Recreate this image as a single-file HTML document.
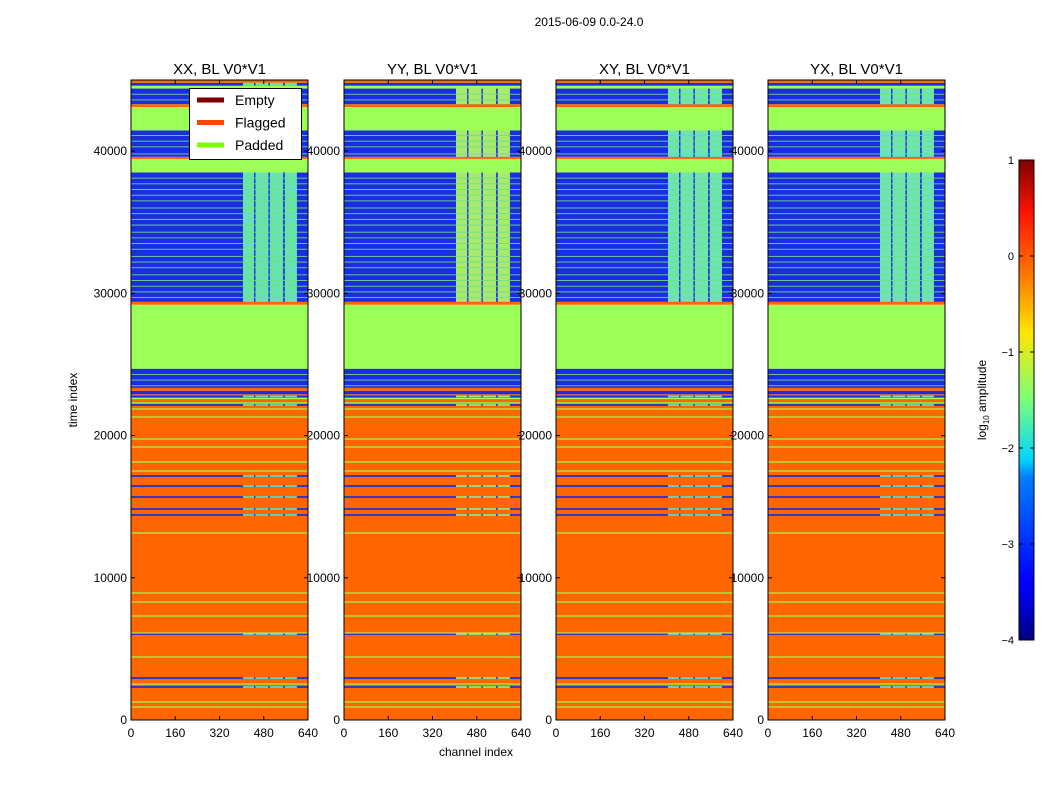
<!DOCTYPE html>
<html><head><meta charset="utf-8">
<style>
html,body{margin:0;padding:0;background:#fff;}
#wrap{position:relative;width:1050px;height:800px;overflow:hidden;font-family:"Liberation Sans",sans-serif;}
svg text{font-family:"Liberation Sans",sans-serif;}
</style></head>
<body>
<div id="wrap">
<svg id="fig" width="1050" height="800" xmlns="http://www.w3.org/2000/svg">
<text x="589" y="26" font-size="12" text-anchor="middle">2015-06-09 0.0-24.0</text>
<text x="476" y="756" font-size="12" text-anchor="middle">channel index</text>
<text x="77" y="400" font-size="12" text-anchor="middle" transform="rotate(-90 77 400)">time index</text>
<text x="986" y="400" font-size="12" text-anchor="middle" transform="rotate(-90 986 400)">log<tspan font-size="8" dy="3">10</tspan><tspan dy="-3"> amplitude</tspan></text>
<g id="panels"></g>
<g id="cbar"></g>
</svg>
</div>
<script>
// ---- data ----
const panelTitles = ["XX, BL V0*V1","YY, BL V0*V1","XY, BL V0*V1","YX, BL V0*V1"];
const stripeColors = ["#70f8a8","#b8ff60","#78f8a8","#78f8a8"];
// time bands: start, end, code (D=data, F=flagged, P=padded)
const bandStart = [0,     22900, 23150, 23350, 24700, 29200, 29400, 38500, 39450, 39600, 41450, 43100, 43300, 44400, 44600, 44800];
const bandEnd   = [22900, 23150, 23350, 24700, 29200, 29400, 38500, 39450, 39600, 41450, 43100, 43300, 44400, 44600, 44800, 45000];
const bandCode  = ["F",   "D",   "F",   "D",   "P",   "F",   "D",   "P",   "F",   "D",   "P",   "F",   "D",   "P",   "D",   "F"];
// thin padded lines inside flagged region
const paddedLines = [914,1265,2531,4429,6117,7312,8296,8929,13148,17507,18140,19195,19757,21304,21867,22300,22600];
// thin data rows inside flagged region
const dataRows = [2320,2953,6047,14414,14836,15680,16452,17155,22150,22750];
// thin padded lines inside data regions
const dataGreenLines = [23500,23900,24300,29700,30100,30500,30900,31300,31800,32200,32600,33100,33500,33900,34300,34800,35200,35600,36000,36500,36900,37300,37700,38100,39800,40300,40700,41100,43600,44000];
// stripe channel ranges (signal region)
const stripeStart = [405, 450, 502, 556];
const stripeEnd   = [445, 497, 550, 600];
// colorbar
const cbTicks = [1,0,-1,-2,-3,-4];
const xTicks = [0,160,320,480,640];
const yTicks = [0,10000,20000,30000,40000];

// ---- layout ----
const panelX = [131,344,556,768], PW = 177, PT = 80, PH = 640;
const TMAX = 45000, CMAX = 640;
const NS = "http://www.w3.org/2000/svg";
function el(tag, attrs, parent){const e=document.createElementNS(NS,tag);for(const k in attrs)e.setAttribute(k,attrs[k]);parent.appendChild(e);return e;}
const codeColor = {F:"#ff6600",P:"#9cff58",D:"#1a2de0"};

const panels = document.getElementById("panels");
panelX.forEach((px,pi)=>{
  const g = el("g",{},panels);
  
  
  const xs = c => px + c/CMAX*PW;
  const ys = t => PT + PH - t/TMAX*PH;
  function row(t0,t1,color,name){
    const r = el("rect",{x:px,y:ys(t1),width:PW,height:Math.max(ys(t0)-ys(t1),0.8),fill:color},g);
    
    
    return r;
  }
  function stripes(t0,t1){
    for(let i=0;i<stripeStart.length;i++){
      const r = el("rect",{x:xs(stripeStart[i]),y:ys(t1),width:xs(stripeEnd[i])-xs(stripeStart[i]),height:Math.max(ys(t0)-ys(t1),0.8),fill:stripeColors[pi],opacity:0.9},g);
      
      
    }
  }
  for(let i=0;i<bandStart.length;i++){
    row(bandStart[i],bandEnd[i],codeColor[bandCode[i]],'band-'+bandCode[i]);
    if(bandCode[i]==="D" && bandEnd[i]-bandStart[i]>1000 && bandStart[i]>25000 && !(pi===0 && bandStart[i]>43000)) stripes(bandStart[i],bandEnd[i]);
  }
  if(pi===0) stripes(44600,44800);
  dataRows.forEach(t=>{row(t-60,t+60,codeColor.D,'data-row');stripes(t-60,t+60);});
  paddedLines.forEach(t=>row(t-40,t+40,codeColor.P,'padded-line'));
  dataGreenLines.forEach(t=>row(t-30,t+30,"#6ee08a",'data-padded-line'));
  const f = el("rect",{x:px,y:PT,width:PW,height:PH,fill:"none",stroke:"#000","stroke-width":1},g);
  
  
  const tt = el("text",{x:px+PW/2,y:PT-6,"font-size":15,"text-anchor":"middle"},g);
  tt.textContent = panelTitles[pi];
  
  
  xTicks.forEach(c=>{
    el("line",{x1:xs(c),x2:xs(c),y1:PT+PH,y2:PT+PH-4,stroke:"#000"},g);
    el("line",{x1:xs(c),x2:xs(c),y1:PT,y2:PT+4,stroke:"#000"},g);
    const t = el("text",{x:xs(c),y:PT+PH+17,"font-size":12,"text-anchor":"middle"},g);
    t.textContent = c;
    
    
  });
  yTicks.forEach(v=>{
    el("line",{x1:px,x2:px+4,y1:ys(v),y2:ys(v),stroke:"#000"},g);
    el("line",{x1:px+PW,x2:px+PW-4,y1:ys(v),y2:ys(v),stroke:"#000"},g);
    const t = el("text",{x:px-4,y:ys(v)+4,"font-size":12,"text-anchor":"end"},g);
    t.textContent = v;
    
    
  });
});

// legend
(function(){
  const g = el("g",{},panels);
  
  
  el("rect",{x:189.5,y:88.5,width:112,height:71,fill:"#fff",stroke:"#000"},g);
  const names=["Empty","Flagged","Padded"], cols=["#800000","#ff4500","#7cfc00"];
  names.forEach((n,i)=>{
    const y=100+i*22.5;
    el("line",{x1:197,x2:224,y1:y,y2:y,stroke:cols[i],"stroke-width":5},g);
    const t=el("text",{x:235,y:y+5,"font-size":14},g);
    t.textContent=n;
    
    
  });
})();

// colorbar
(function(){
  const g = document.getElementById("cbar");
  
  
  const defs = el("defs",{},g);
  const lg = el("linearGradient",{id:"jet",x1:0,y1:1,x2:0,y2:0},defs);
  [["0","#00007f"],["0.11","#0000ff"],["0.125","#0000ff"],["0.34","#0080ff"],["0.375","#00d4ff"],["0.5","#7cff79"],["0.64","#ffe600"],["0.75","#ff8000"],["0.89","#ff1400"],["1","#7f0000"]].forEach(s=>el("stop",{offset:s[0],"stop-color":s[1]},lg));
  const cx=1019, cy=160, cw=15, ch=480;
  el("rect",{x:cx,y:cy,width:cw,height:ch,fill:"url(#jet)",stroke:"#000"},g);
  cbTicks.forEach(v=>{
    const y = cy + (1-v)/5*ch;
    el("line",{x1:cx,x2:cx+4,y1:y,y2:y,stroke:"#000"},g);
    el("line",{x1:cx+cw,x2:cx+cw-4,y1:y,y2:y,stroke:"#000"},g);
    const t=el("text",{x:cx-5,y:y+4,"font-size":11,"text-anchor":"end"},g);
    t.textContent = v<0 ? "\u2212"+(-v) : v;
    
    
  });
})();
</script>
</body></html>
